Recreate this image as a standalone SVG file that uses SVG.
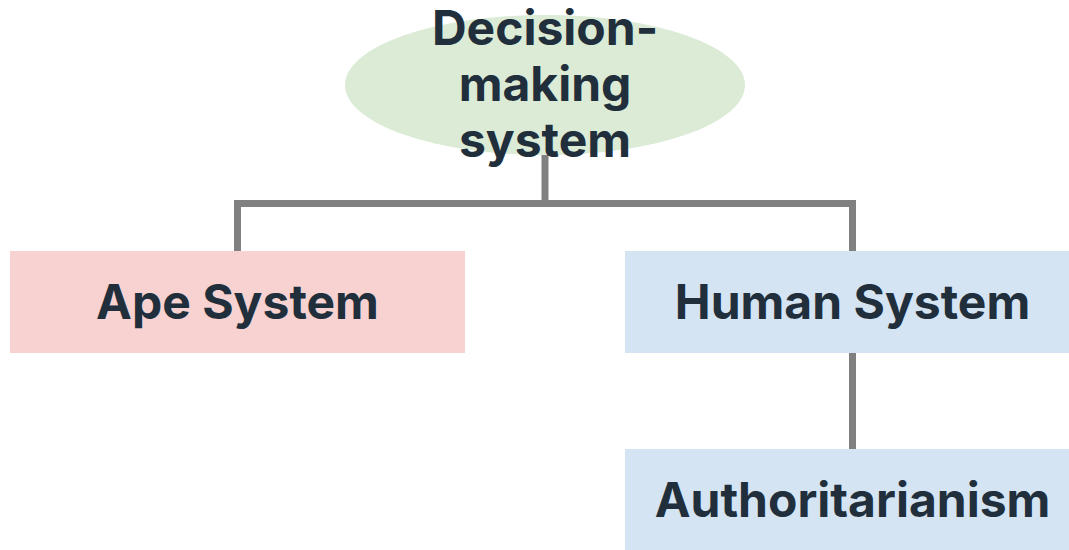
<svg xmlns="http://www.w3.org/2000/svg" width="1069" height="550" viewBox="0 0 1069 550">
<style>
text{font-family:Inter,"Liberation Sans",sans-serif;font-weight:700;font-size:48px;fill:#212f3c;text-anchor:middle}
.conn{fill:none;stroke:#808080;stroke-width:7}
</style>
<rect width="1069" height="550" fill="#ffffff"/>
<g id="connectors">
<path class="conn" d="M545 155 V203.5 H237.5 V251"/>
<path class="conn" d="M545 203.5 H852.5 V251"/>
<path class="conn" d="M852.5 353 V449"/>
</g>
<g id="root">
<ellipse cx="545" cy="85" rx="200" ry="70" fill="#dbebd5"/>
<text x="545" y="45">Decision-</text>
<text x="545" y="101">making</text>
<text x="545" y="157">system</text>
</g>
<g id="ape">
<rect x="10" y="251" width="455" height="102" fill="#f7d2d1"/>
<text x="237.5" y="319">Ape System</text>
</g>
<g id="human">
<rect x="625" y="251" width="455" height="102" fill="#d4e4f3"/>
<text x="852.5" y="319">Human System</text>
</g>
<g id="auth">
<rect x="625" y="449" width="455" height="101" fill="#d4e4f3"/>
<text x="852.5" y="517">Authoritarianism</text>
</g>
</svg>
